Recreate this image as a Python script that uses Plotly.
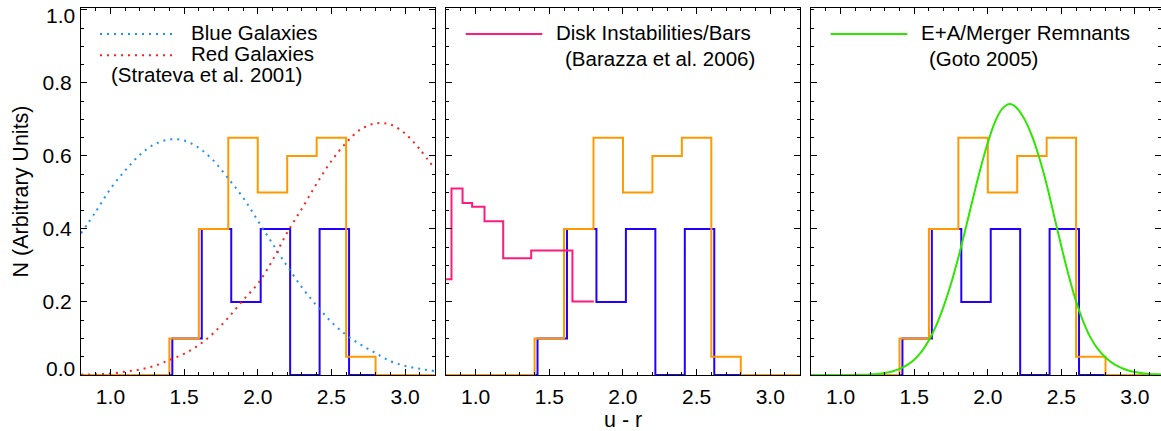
import plotly.graph_objects as go

# ---------------- data ----------------
# colour grid (u - r) for the Strateva curves
ur_grid = [0.8, 0.9, 1.0, 1.1, 1.2, 1.3, 1.4, 1.5, 1.6, 1.7, 1.8, 1.9, 2.0,
           2.1, 2.2, 2.3, 2.4, 2.5, 2.6, 2.7, 2.8, 2.9, 3.0, 3.1, 3.2]
blue_galaxies = [0.388, 0.447, 0.51, 0.56, 0.603, 0.632, 0.645, 0.642, 0.622,
                 0.587, 0.538, 0.486, 0.423, 0.36, 0.298, 0.24, 0.19, 0.145,
                 0.11, 0.083, 0.06, 0.038, 0.025, 0.017, 0.011]
red_galaxies = [0.001, 0.002, 0.004, 0.009, 0.015, 0.025, 0.041, 0.058, 0.082,
                0.115, 0.157, 0.205, 0.25, 0.314, 0.39, 0.456, 0.524, 0.586,
                0.636, 0.673, 0.689, 0.686, 0.661, 0.618, 0.565]

# E+A / merger remnants (Goto 2005)
ea_grid = [0.8, 0.85, 0.9, 0.95, 1.0, 1.05, 1.1, 1.15, 1.2, 1.25,
           1.3, 1.35, 1.4, 1.45, 1.5, 1.55, 1.6, 1.65, 1.7, 1.75,
           1.8, 1.85, 1.9, 1.95, 2.0, 2.05, 2.1, 2.15, 2.2, 2.25,
           2.3, 2.35, 2.4, 2.45, 2.5, 2.55, 2.6, 2.65, 2.7, 2.75,
           2.8, 2.85, 2.9, 2.95, 3.0, 3.05, 3.1, 3.15, 3.2]
ea_merger = [0.0, 0.0, 0.0, 0.0001, 0.0001, 0.0002, 0.0004, 0.0009, 0.0017, 0.003,
             0.0056, 0.0098, 0.0166, 0.027, 0.042, 0.064, 0.095, 0.136, 0.188, 0.25,
             0.322, 0.402, 0.485, 0.565, 0.636, 0.694, 0.73, 0.742, 0.73, 0.70,
             0.655, 0.595, 0.522, 0.437, 0.352, 0.272, 0.202, 0.145, 0.101, 0.07,
             0.048, 0.032, 0.021, 0.013, 0.008, 0.005, 0.003, 0.002, 0.001]

# Disk instabilities / bars (Barazza et al. 2006) - step curve
bars_edges = [0.78, 0.836, 0.911, 0.976, 1.06, 1.187, 1.377, 1.657, 1.802]
bars_vals = [0.262, 0.511, 0.471, 0.461, 0.421, 0.32, 0.341, 0.201, 0.201]

# sample histograms
orange_edges = [1.4, 1.6, 1.8, 2.0, 2.2, 2.4, 2.6, 2.8]
orange_vals = [0.1, 0.4, 0.65, 0.5, 0.6, 0.65, 0.05]
blue_edges = [1.42, 1.62, 1.82, 2.02, 2.22, 2.42, 2.62]
blue_vals = [0.1, 0.4, 0.2, 0.4, 0.0, 0.4]

X_RANGE = [0.8, 3.2]
major_ticks = [1.0, 1.5, 2.0, 2.5, 3.0]
x_ticklabels = ["1.0", "1.5", "2.0", "2.5", "3.0"]
y_ticks = [0.0, 0.2, 0.4, 0.6, 0.8, 1.0]
y_ticklabels = ["", "0.2", "0.4", "0.6", "0.8", ""]   # end labels placed inside the frame below
y_end_labels = ["0.0", "1.0"]

# colours
C_ORANGE = "#ff9900"
C_BLUEH = "#2200ff"
C_BLUEC = "#1e8fff"
C_RED = "#ff1f1f"
C_PINK = "#ff1a7d"
C_GREEN = "#2ee600"

W, H = 1161, 431
TOP, BOT = 8, 375


def hist_xy(edges, vals):
    xs = [X_RANGE[0]] + list(edges) + [X_RANGE[1]]
    ys = [0.0] + list(vals) + [0.0, 0.0]
    return xs, ys


fig = go.Figure()

panels = ["", "2", "3"]
for p in panels:
    xa = "x" + p
    ya = "y" + p
    bx, by = hist_xy(blue_edges, blue_vals)
    fig.add_trace(go.Scatter(x=bx, y=by, mode="lines", line=dict(color=C_BLUEH, width=2, shape="hv"),
                             xaxis=xa, yaxis=ya, showlegend=False, hoverinfo="skip"))
    ox, oy = hist_xy(orange_edges, orange_vals)
    fig.add_trace(go.Scatter(x=ox, y=oy, mode="lines", line=dict(color=C_ORANGE, width=2, shape="hv"),
                             xaxis=xa, yaxis=ya, showlegend=False, hoverinfo="skip"))

# panel 1 curves
fig.add_trace(go.Scatter(x=ur_grid, y=blue_galaxies, mode="lines",
                         line=dict(color=C_BLUEC, width=2, dash="2px,5px", shape="spline"),
                         xaxis="x", yaxis="y", showlegend=False))
fig.add_trace(go.Scatter(x=ur_grid, y=red_galaxies, mode="lines",
                         line=dict(color=C_RED, width=2, dash="2px,5px", shape="spline"),
                         xaxis="x", yaxis="y", showlegend=False))
# panel 2 bars
fig.add_trace(go.Scatter(x=bars_edges, y=bars_vals, mode="lines",
                         line=dict(color=C_PINK, width=2, shape="hv"),
                         xaxis="x2", yaxis="y2", showlegend=False))
# panel 3 E+A
fig.add_trace(go.Scatter(x=ea_grid, y=ea_merger, mode="lines",
                         line=dict(color=C_GREEN, width=2, shape="spline"),
                         xaxis="x3", yaxis="y3", showlegend=False))

FAMILY = "Liberation Sans, Arial, sans-serif"
FONT = dict(family=FAMILY, size=20.5, color="black")
TICKFONT = dict(family=FAMILY, size=21, color="black")
TITLEFONT = dict(family=FAMILY, size=21.5, color="black")

x_doms = [[81 / W, 434.5 / W], [446.2 / W, 799.7 / W], [811.2 / W, 1.0]]
x_ranges = [X_RANGE, X_RANGE, [0.8, 3.177]]


def xaxis_cfg(i):
    return dict(domain=x_doms[i], range=x_ranges[i], tickvals=major_ticks, ticktext=x_ticklabels,
                ticks="inside", ticklen=6, tickwidth=1, tickcolor="black",
                showline=True, linecolor="black", linewidth=1, mirror="ticks",
                showgrid=False, zeroline=False, tickfont=TICKFONT, anchor="y" + panels[i],
                automargin=False, ticklabelstandoff=3,
                minor=dict(dtick=0.1, tick0=0.8, ticks="inside", ticklen=3, tickcolor="black",
                           tickwidth=1, showgrid=False))


def yaxis_cfg(i):
    return dict(domain=[1 - BOT / H, 1 - TOP / H], range=[0, 1.005], tickvals=y_ticks,
                ticktext=y_ticklabels, showticklabels=(i == 0),
                ticks="inside", ticklen=6, tickwidth=1, tickcolor="black",
                showline=True, linecolor="black", linewidth=1, mirror="ticks",
                showgrid=False, zeroline=False, tickfont=TICKFONT, anchor="x" + panels[i],
                automargin=False, ticklabelstandoff=4,
                minor=dict(dtick=0.05, tick0=0, ticks="inside", ticklen=3, tickcolor="black",
                           tickwidth=1, showgrid=False))


layout = dict(width=W, height=H, margin=dict(l=0, r=0, t=0, b=0, autoexpand=False),
              template="none",
              paper_bgcolor="white", plot_bgcolor="white", font=FONT, showlegend=False)
for i, p in enumerate(panels):
    layout["xaxis" + p] = xaxis_cfg(i)
    layout["yaxis" + p] = yaxis_cfg(i)
fig.update_layout(**layout)


def px(xp):
    return xp / W


def py(yp):
    return 1 - yp / H


# legend decorations
legend_lines = [
    (100, 177, 34, C_BLUEC, "2px,5px"),
    (100, 177, 55.3, C_RED, "2px,5px"),
    (465.7, 542.3, 34, C_PINK, "solid"),
    (830.7, 907.3, 34, C_GREEN, "solid"),
]
for x0, x1, yy, col, dash in legend_lines:
    fig.add_shape(type="line", xref="paper", yref="paper", x0=px(x0), x1=px(x1), y0=py(yy), y1=py(yy),
                  line=dict(color=col, width=2, dash=dash))

legend_texts = [
    (189, 33, "Blue Galaxies"),
    (189, 54, "Red Galaxies"),
    (109, 75, "(Strateva et al. 2001)"),
    (554, 33, "Disk Instabilities/Bars"),
    (563, 58, "(Barazza et al. 2006)"),
    (918.7, 33, "E+A/Merger Remnants"),
    (927.3, 58, "(Goto 2005)"),
]
for xx, yy, t in legend_texts:
    fig.add_annotation(text=t, xref="paper", yref="paper", x=px(xx), y=py(yy), xanchor="left",
                       yanchor="middle", showarrow=False, font=FONT)

# end tick labels of the y axis, kept inside the frame height as in the original
fig.add_annotation(text=y_end_labels[0], xref="paper", yref="paper", x=px(77), y=py(368),
                   xanchor="right", yanchor="middle", showarrow=False, font=TICKFONT)
fig.add_annotation(text=y_end_labels[1], xref="paper", yref="paper", x=px(77), y=py(15),
                   xanchor="right", yanchor="middle", showarrow=False, font=TICKFONT)

fig.add_annotation(text="N (Arbitrary Units)", xref="paper", yref="paper", x=px(20), y=py(191.5),
                   textangle=-90, xanchor="center", yanchor="middle", showarrow=False, font=TITLEFONT)
fig.add_annotation(text="u - r", xref="paper", yref="paper", x=px(623), y=py(420),
                   xanchor="center", yanchor="middle", showarrow=False, font=TITLEFONT)

fig.write_html("out.html")
